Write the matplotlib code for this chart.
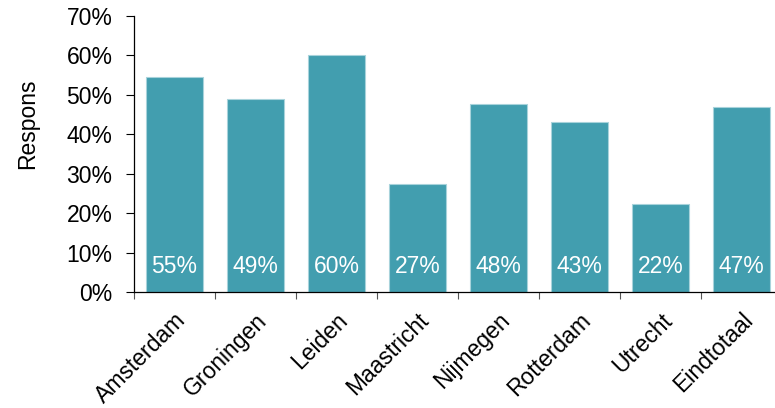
import matplotlib
matplotlib.use("Agg")
import matplotlib.pyplot as plt
import numpy as np
from matplotlib.ticker import FixedLocator, PercentFormatter

categories = ["Amsterdam", "Groningen", "Leiden", "Maastricht", "Nijmegen", "Rotterdam", "Utrecht", "Eindtotaal"]
values = [54.5, 48.9, 60.0, 27.3, 47.8, 43.2, 22.2, 46.9]
labels = ["55%", "49%", "60%", "27%", "48%", "43%", "22%", "47%"]

plt.rcParams['font.family'] = ['Liberation Sans', 'DejaVu Sans']

fig = plt.figure(figsize=(7.75, 4.08), dpi=100)
ax = fig.add_axes([134/775, (408-292)/408, (782-134)/775, (292-16)/408])

x = np.arange(len(categories))
bars = ax.bar(x, values, width=0.7, color="#429EAF", edgecolor="#A8D3DB", linewidth=0.8, zorder=2)
for xi, lab in zip(x, labels):
    ax.text(xi, 6.4, lab, ha="center", va="center", color="white", fontsize=16.5)

ax.set_xlim(-0.5, 7.5)
ax.set_ylim(0, 70)
ax.set_yticks(np.arange(0, 71, 10))
ax.yaxis.set_major_formatter(PercentFormatter(decimals=0))
ax.set_xticks(x)
ax.set_xticklabels(categories, rotation=45, ha="right", rotation_mode="anchor", fontsize=16.5)
ax.xaxis.set_minor_locator(FixedLocator(np.arange(-0.5, 8, 1)))
ax.tick_params(axis="x", which="major", length=0, pad=12)
ax.tick_params(axis="x", which="minor", length=5, width=0.8, color="#555555")
ax.tick_params(axis="y", length=5.5, width=0.8, labelsize=16.5, pad=10)
for s in ["top", "right"]:
    ax.spines[s].set_visible(False)
ax.spines["left"].set_linewidth(0.9)
ax.spines["bottom"].set_linewidth(0.9)
ax.set_ylabel("Respons", fontsize=16.5)
ax.yaxis.set_label_coords(-0.146, 0.61)

fig.savefig("out.png", dpi=100)
